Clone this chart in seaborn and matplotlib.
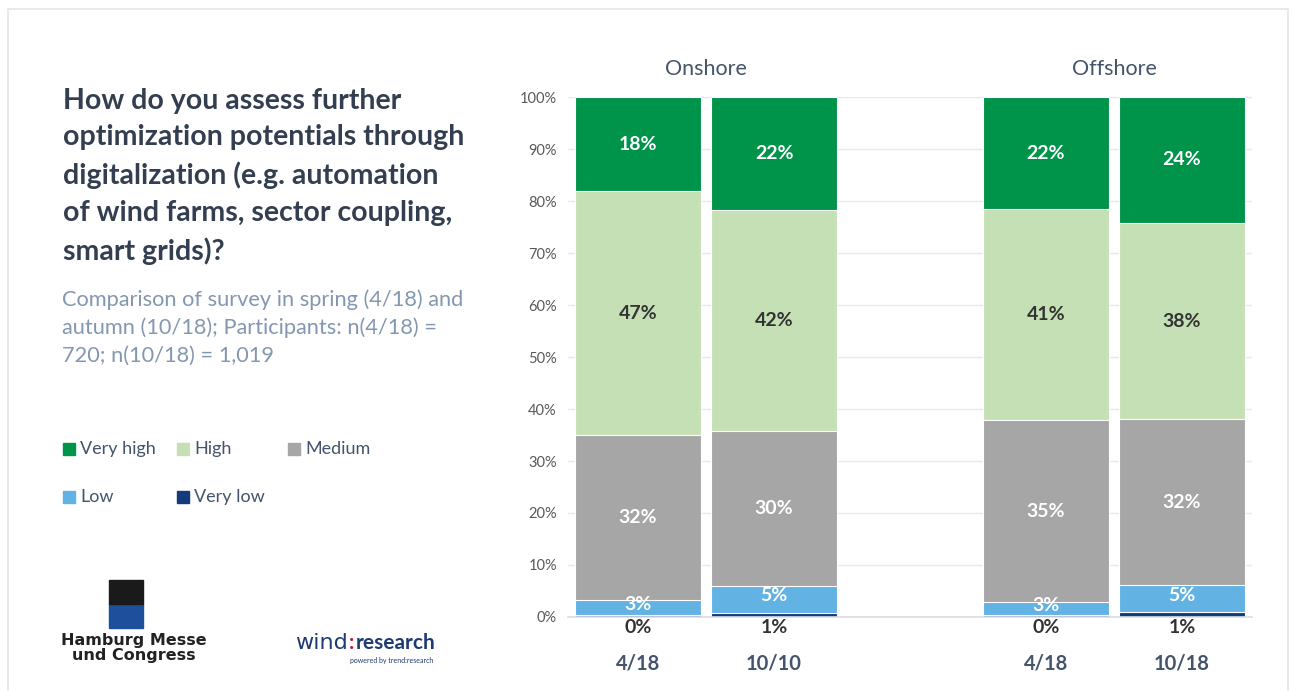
import matplotlib
matplotlib.use("Agg")
import matplotlib.pyplot as plt
from matplotlib.patches import Rectangle
import seaborn as sns
import pandas as pd

# Survey data (shares in %)
bars = ["Onshore 4/18", "Onshore 10/10", "Offshore 4/18", "Offshore 10/18"]
survey_labels = ["4/18", "10/10", "4/18", "10/18"]
groups = ["Onshore", "Offshore"]
levels = ["Very high", "High", "Medium", "Low", "Very low"]
very_high = [18.1, 21.8, 21.6, 24.2]
high = [46.9, 42.4, 40.6, 37.8]
medium = [31.8, 29.8, 34.9, 31.9]
low = [2.8, 5.3, 2.6, 5.2]
very_low = [0.4, 0.7, 0.3, 0.9]

colors = {"Very high": "#00944A", "High": "#C5E0B4", "Medium": "#A6A6A6",
          "Low": "#62B2E4", "Very low": "#143C7D"}
label_colors = {"Very high": "white", "High": "#333333", "Medium": "white",
                "Low": "white", "Very low": "#333333"}
SLATE = "#44546A"

sns.set_theme(style="white")
plt.rcParams["font.family"] = ["Lato", "DejaVu Sans"]

# long table with stacked bottoms/tops
values = {"Very low": very_low, "Low": low, "Medium": medium, "High": high, "Very high": very_high}
rows = []
for i, b in enumerate(bars):
    bottom = 0
    for lvl in ["Very low", "Low", "Medium", "High", "Very high"]:
        v = values[lvl][i]
        rows.append({"bar": b, "level": lvl, "value": v, "bottom": bottom, "top": bottom + v})
        bottom += v
df = pd.DataFrame(rows)

order = [bars[0], bars[1], " ", bars[2], bars[3]]

fig = plt.figure(figsize=(12.93, 6.91), dpi=100)
ax = fig.add_axes([568 / 1293, 1 - 617 / 691, 684 / 1293, 520 / 691])

# draw cumulative tops, largest first, so each layer covers the one above
for lvl in levels:
    sub = df[df["level"] == lvl]
    sns.barplot(data=sub, x="bar", y="top", order=order, color=colors[lvl],
                width=0.926, errorbar=None, edgecolor="white", linewidth=0.8,
                saturation=1, ax=ax)

pos = {b: order.index(b) for b in bars}
for _, r in df.iterrows():
    x = pos[r["bar"]]
    txt = f"{r['value']:.0f}%"
    if r["level"] == "Very low":
        y = -2.0
    elif r["level"] == "Low":
        y = r["bottom"] + r["value"] / 2 + 0.7
    else:
        y = (r["bottom"] + r["top"]) / 2
    ax.text(x, y, txt, ha="center", va="center", fontsize=14, fontweight="bold",
            color=label_colors[r["level"]], clip_on=False)

ax.set_ylim(0, 100)
ax.set_xlim(-0.515, 4.515)
ax.set_yticks(range(0, 101, 10))
ax.set_yticklabels([f"{t}%" for t in range(0, 101, 10)])
ax.set_xticks(range(5))
ax.set_xticklabels([survey_labels[0], survey_labels[1], "", survey_labels[2], survey_labels[3]])
ax.tick_params(axis="y", length=0, pad=8, labelsize=10.5, labelcolor="#595959")
ax.tick_params(axis="x", length=0, pad=26, labelsize=14.5, labelcolor=SLATE)
for lab in ax.get_xticklabels():
    lab.set_fontweight("bold")
ax.set_xlabel("")
ax.set_ylabel("")
ax.yaxis.grid(True, color="#E5E8EC", linewidth=1)
ax.set_axisbelow(True)
for s in ["top", "right", "left"]:
    ax.spines[s].set_visible(False)
ax.spines["bottom"].set_color("#DADDE2")
ax.spines["bottom"].set_linewidth(1.2)

# group headers
for g, xc in zip(groups, [0.5, 3.5]):
    ax.text(xc, 1 + 28 / 520, g, transform=ax.get_xaxis_transform(),
            ha="center", va="center", fontsize=15.5, color=SLATE)

# left-hand texts
fig.text(63 / 1293, 1 - 88 / 691,
         "How do you assess further\noptimization potentials through\n"
         "digitalization (e.g. automation\nof wind farms, sector coupling,\nsmart grids)?",
         ha="left", va="top", fontsize=20.5, fontweight="bold", color="#333F50",
         linespacing=1.5)
fig.text(62 / 1293, 1 - 289 / 691,
         "Comparison of survey in spring (4/18) and\nautumn (10/18); Participants: n(4/18) =\n"
         "720; n(10/18) = 1,019",
         ha="left", va="top", fontsize=15.7, color="#8497B0", linespacing=1.47)

# legend
leg_pos = [(63, 449), (177, 449), (288, 449), (63, 497), (177, 497)]
for lvl, (lx, ly) in zip(levels, leg_pos):
    fig.patches.append(Rectangle((lx / 1293, 1 - (ly + 6) / 691), 12 / 1293, 12 / 691,
                                 transform=fig.transFigure, color=colors[lvl]))
    fig.text((lx + 17) / 1293, 1 - ly / 691, lvl, ha="left", va="center",
             fontsize=13, color=SLATE)

# logos (approximation)
fig.patches.append(Rectangle((109 / 1293, 1 - 628 / 691), 34 / 1293, 24 / 691,
                             transform=fig.transFigure, color="#1D4F9C"))
fig.patches.append(Rectangle((109 / 1293, 1 - 604 / 691), 34 / 1293, 24 / 691,
                             transform=fig.transFigure, color="#1A1A1A"))
fig.text(134 / 1293, 1 - 648 / 691, "Hamburg Messe\nund Congress", ha="center", va="center",
         fontsize=11.5, fontweight="bold", color="#222222", family=["DejaVu Sans"],
         linespacing=1.0)
fig.text(348 / 1293, 1 - 643 / 691, "wind", ha="right", va="center", fontsize=16,
         color="#1F3B73", family=["DejaVu Sans"])
fig.text(352 / 1293, 1 - 643 / 691, ":", ha="center", va="center", fontsize=15,
         fontweight="bold", color="#C8102E")
fig.text(356 / 1293, 1 - 643 / 691, "research", ha="left", va="center", fontsize=15,
         fontweight="bold", color="#1F3B73")
fig.text(433 / 1293, 1 - 660 / 691, "powered by trend:research", ha="right", va="center",
         fontsize=5, color="#1F3B73")

# slide frame
fig.patches.append(Rectangle((8 / 1293, -0.01), 1280 / 1293, 1 - 9 / 691 + 0.01,
                             transform=fig.transFigure, fill=False, edgecolor="#E3E6EA",
                             linewidth=1.2))

fig.savefig("out.png", dpi=100)
